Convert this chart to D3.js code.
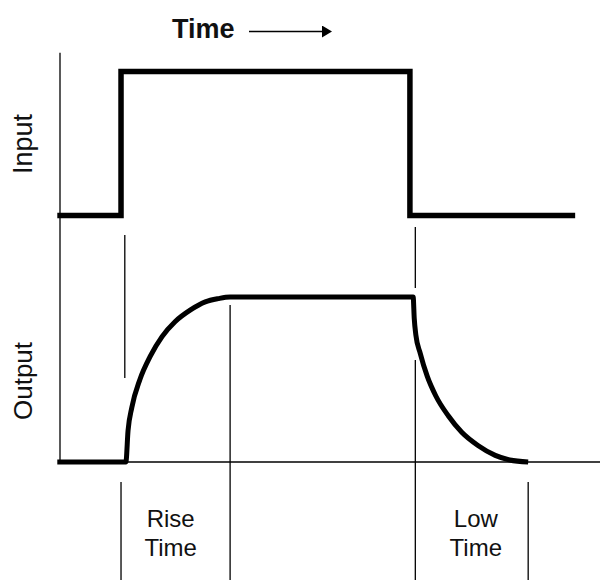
<!DOCTYPE html>
<html>
<head>
<meta charset="utf-8">
<script src="https://cdn.jsdelivr.net/npm/d3@7"></script>
<style>
  body { margin: 0; background: #fff; }
  text { font-family: "Liberation Sans", Arial, sans-serif; fill: #111; }
</style>
</head>
<body>
<svg id="vis" width="600" height="580"></svg>
<script>
// time axis runs 0..100, levels run 0 (low) .. 1 (high)
const inputT = [-0.5, 11.3, 11.3, 64.8, 64.8, 95.4]
const inputV = [0, 0, 1, 1, 0, 0]

const outputT = [-0.5, 12.2, 12.6, 13.3, 14.8, 16.7, 18.9, 21.3, 24.1, 26.9, 29.3, 31.5,
                 65.4, 65.6, 65.9, 66.7, 68.0, 69.6, 71.9, 74.4, 77.4, 80.6, 83.3, 86.7]
const outputV = [0, 0, 0.19, 0.33, 0.50, 0.64, 0.76, 0.85, 0.92, 0.97, 0.99, 1,
                 1, 0.87, 0.77, 0.66, 0.52, 0.40, 0.28, 0.18, 0.10, 0.04, 0.012, 0]

// guide lines, in output-level units
const guideT    = [12.0, 11.3, 31.5, 65.8, 65.8, 86.7]
const guideFrom = [1.376, -0.121, 0.952, 1.424, 0.618, -0.121]
const guideTo   = [0.509, -0.72, -0.72, 1.055, -0.72, -0.72]

const labels = [
    {lines: ['Rise', 'Time'], t: 20.5},
    {lines: ['Low', 'Time'], t: 77}
]

const svg = d3.select('#vis')

const x = d3.scaleLinear().domain([0, 100]).range([60, 600])
const yIn = d3.scaleLinear().domain([0, 1]).range([215.5, 71.5])
const yOut = d3.scaleLinear().domain([0, 1]).range([462, 297])

// axes
svg.append('line')
    .attr('x1', x(0)).attr('x2', x(0))
    .attr('y1', yIn(1.13)).attr('y2', yOut(-0.012))
    .attr('stroke', '#000').attr('stroke-width', 1.3)

svg.append('line')
    .attr('x1', x(0)).attr('x2', x(100))
    .attr('y1', yOut(0)).attr('y2', yOut(0))
    .attr('stroke', '#000').attr('stroke-width', 1.3)

// guides
svg.selectAll('.guide')
    .data(guideT)
    .join('line')
    .attr('class', 'guide')
    .attr('x1', d => x(d)).attr('x2', d => x(d))
    .attr('y1', (d, i) => yOut(guideFrom[i]))
    .attr('y2', (d, i) => yOut(guideTo[i]))
    .attr('stroke', '#000').attr('stroke-width', 1.3)

// input signal
const inLine = d3.line()
    .x((d, i) => x(inputT[i]))
    .y(d => yIn(d))

svg.append('path')
    .attr('d', inLine(inputV))
    .attr('fill', 'none').attr('stroke', '#000')
    .attr('stroke-width', 5.5).attr('stroke-linejoin', 'miter')

// output signal
const outLine = d3.line()
    .x((d, i) => x(outputT[i]))
    .y(d => yOut(d))
    .curve(d3.curveMonotoneX)

svg.append('path')
    .attr('d', outLine(outputV))
    .attr('fill', 'none').attr('stroke', '#000')
    .attr('stroke-width', 5)

// title + arrow
svg.append('defs').append('marker')
    .attr('id', 'head')
    .attr('viewBox', '0 0 10 12')
    .attr('refX', 0).attr('refY', 6)
    .attr('markerWidth', 10).attr('markerHeight', 12)
    .attr('markerUnits', 'userSpaceOnUse')
    .attr('orient', 'auto')
    .append('path')
    .attr('d', 'M0,0L10,6L0,12Z')
    .attr('fill', '#000')

svg.append('text')
    .attr('x', 172).attr('y', 37.5)
    .style('font-size', '27px').style('font-weight', 'bold')
    .text('Time')

svg.append('line')
    .attr('x1', 249).attr('x2', 322)
    .attr('y1', 31.5).attr('y2', 31.5)
    .attr('stroke', '#000').attr('stroke-width', 1.5)
    .attr('marker-end', 'url(#head)')

// side labels
svg.append('text')
    .attr('transform', 'translate(32,144) rotate(-90)')
    .attr('text-anchor', 'middle')
    .style('font-size', '27px')
    .text('Input')

svg.append('text')
    .attr('transform', 'translate(32,381) rotate(-90)')
    .attr('text-anchor', 'middle')
    .style('font-size', '26px')
    .text('Output')

// bottom labels
labels.forEach(l => {
    const g = svg.append('text')
        .attr('text-anchor', 'middle')
        .style('font-size', '24px')
    l.lines.forEach((s, i) => {
        g.append('tspan')
            .attr('x', x(l.t))
            .attr('y', 527 + i * 29)
            .text(s)
    })
})
</script>
</body>
</html>
